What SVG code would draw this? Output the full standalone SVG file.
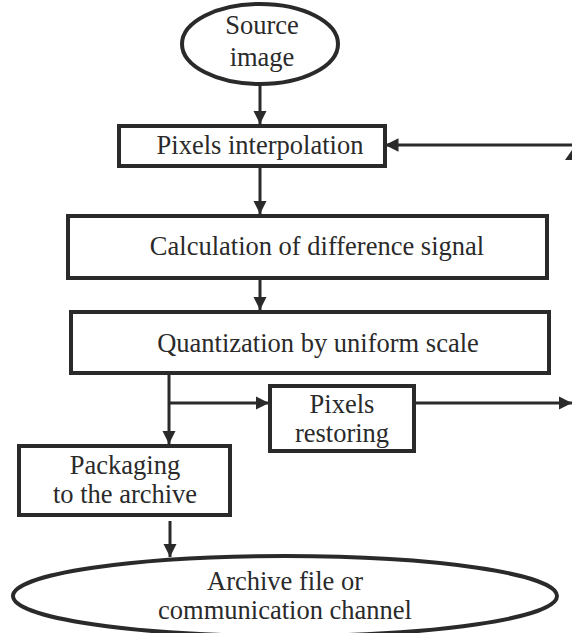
<svg xmlns="http://www.w3.org/2000/svg" width="572" height="633" viewBox="0 0 572 633">
<defs>
<style>
.box{fill:#fff;stroke:#2a2a2a;stroke-width:4}
.ell{fill:#fff;stroke:#2a2a2a;stroke-width:4}
.ln{fill:none;stroke:#2a2a2a;stroke-width:3}
.t{font-family:'Liberation Serif','Times New Roman',Times,serif;font-size:26.5px;fill:#2a2a2a;text-anchor:middle}
</style>
<marker id="ah" viewBox="0 0 10 10" refX="10" refY="5" markerWidth="4.5" markerHeight="4.5" markerUnits="strokeWidth" orient="auto">
<path d="M0,0 L10,5 L0,10 z" fill="#2a2a2a"/>
</marker>
</defs>
<g id="connectors">
<line class="ln" x1="260" y1="84" x2="260" y2="124" marker-end="url(#ah)"/>
<line class="ln" x1="572" y1="145" x2="385" y2="145" marker-end="url(#ah)"/>
<path d="M565,160 L572,150 L572,160 z" fill="#2a2a2a"/>
<line class="ln" x1="260" y1="167" x2="260" y2="214" marker-end="url(#ah)"/>
<line class="ln" x1="260" y1="280" x2="260" y2="310" marker-end="url(#ah)"/>
<line class="ln" x1="169" y1="375" x2="169" y2="444" marker-end="url(#ah)"/>
<line class="ln" x1="169" y1="403" x2="269" y2="403" marker-end="url(#ah)"/>
<line class="ln" x1="415" y1="403" x2="572" y2="403" marker-end="url(#ah)"/>
<line class="ln" x1="170" y1="521" x2="170" y2="557" marker-end="url(#ah)"/>
</g>
<g id="source">
<ellipse class="ell" cx="260" cy="44" rx="78" ry="40"/>
<text class="t" x="262" y="34">Source</text>
<text class="t" x="262" y="66">image</text>
</g>
<g id="interp">
<rect class="box" x="119" y="126" width="266" height="40"/>
<text class="t" x="260" y="154">Pixels interpolation</text>
</g>
<g id="calc">
<rect class="box" x="68" y="216" width="479" height="62"/>
<text class="t" x="317" y="255">Calculation of difference signal</text>
</g>
<g id="quant">
<rect class="box" x="71" y="312" width="478" height="61"/>
<text class="t" x="318" y="352">Quantization by uniform scale</text>
</g>
<g id="restore">
<rect class="box" x="270" y="386" width="144" height="65"/>
<text class="t" x="342" y="413">Pixels</text>
<text class="t" x="342" y="442">restoring</text>
</g>
<g id="pack">
<rect class="box" x="19" y="446" width="211" height="69"/>
<text class="t" x="125" y="474">Packaging</text>
<text class="t" x="125" y="503">to the archive</text>
</g>
<g id="archive">
<ellipse class="ell" cx="285" cy="596" rx="272" ry="40"/>
<text class="t" x="285" y="590">Archive file or</text>
<text class="t" x="285" y="619">communication channel</text>
</g>
</svg>
